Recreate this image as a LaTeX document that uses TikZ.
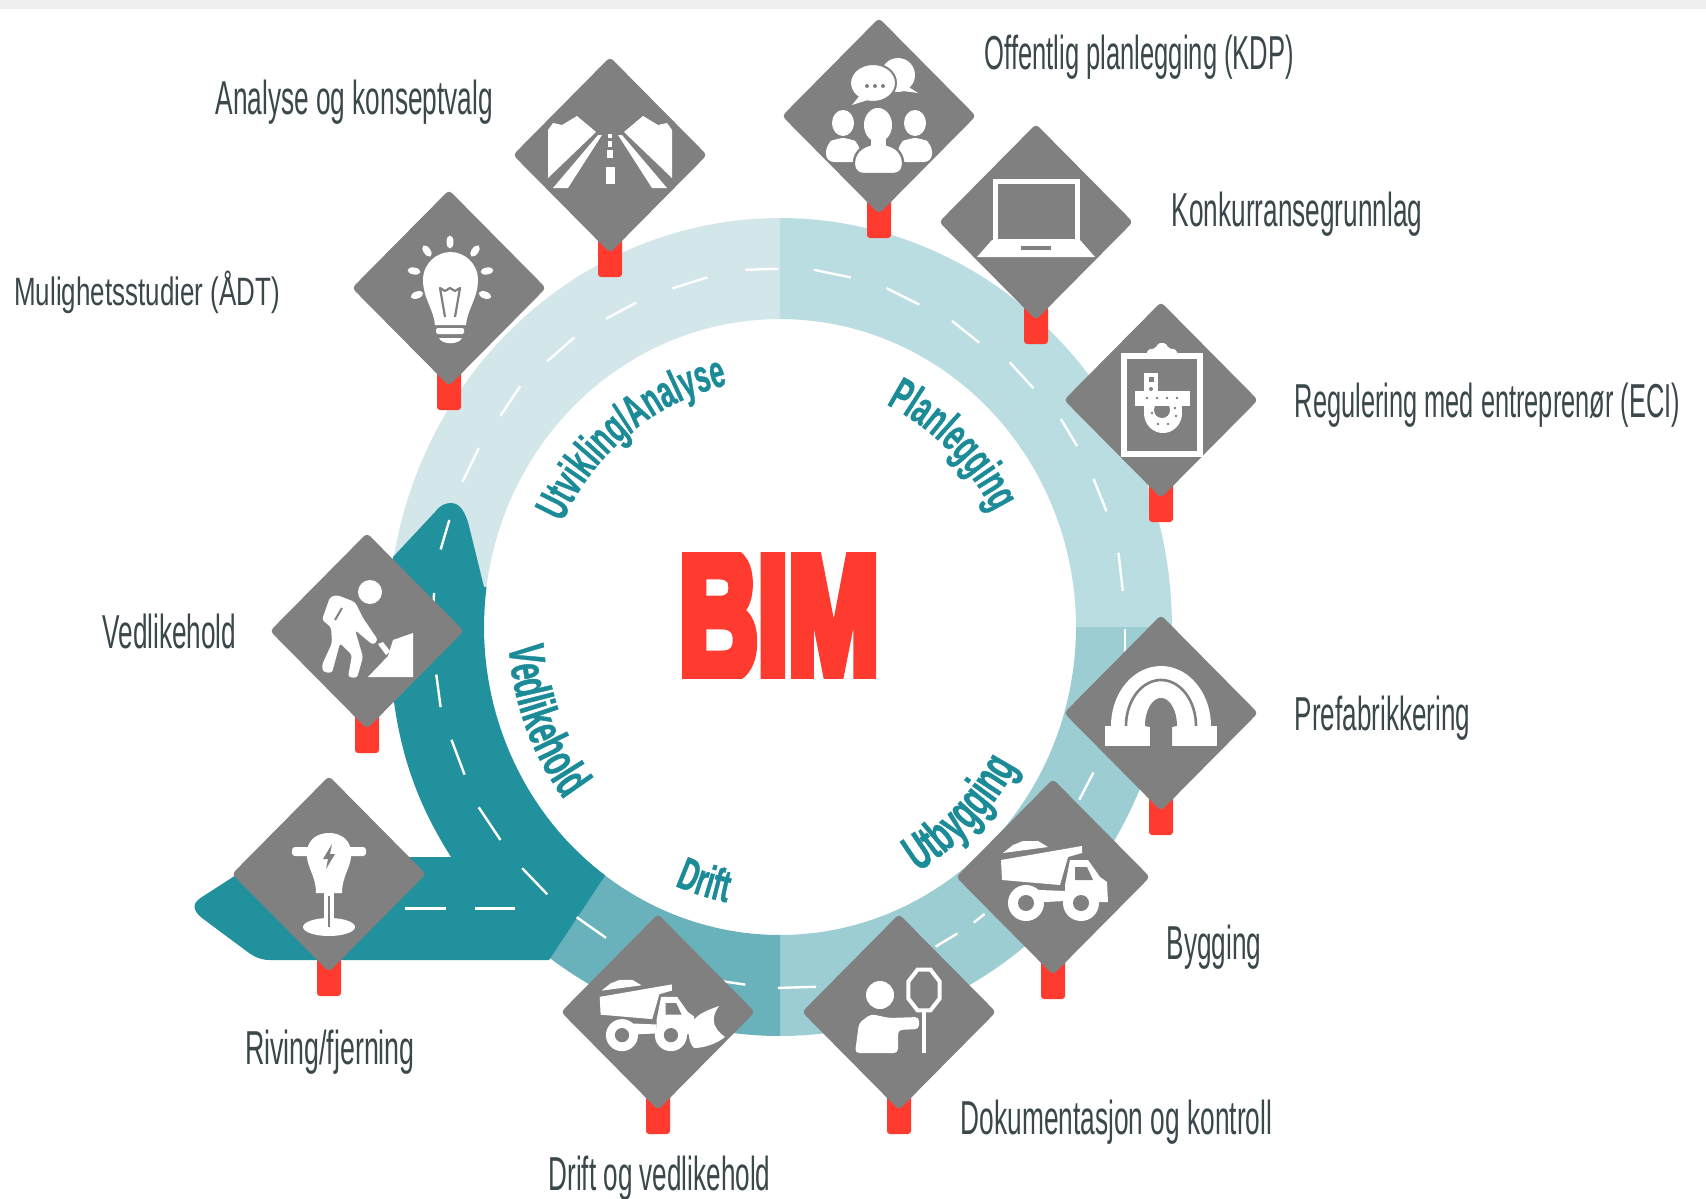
\documentclass[tikz,border=0pt]{standalone}
\usepackage{graphicx}
\usepackage{fontspec}
\usetikzlibrary{shapes.geometric,decorations.text}
\setmainfont{Liberation Sans}
\newfontfamily\curvefont[FakeStretch=0.58,BoldFeatures={FakeBold=0.8}]{Liberation Sans}
\newfontfamily\bimfont[BoldFeatures={FakeBold=8}]{Liberation Sans}
\definecolor{ringa}{HTML}{D3E7EB}
\definecolor{ringb}{HTML}{BADDE1}
\definecolor{ringc}{HTML}{9CCDD3}
\definecolor{ringd}{HTML}{69B2BB}
\definecolor{roadc}{HTML}{21919E}
\definecolor{signg}{HTML}{808080}
\definecolor{postr}{HTML}{FF3B30}
\definecolor{labc}{HTML}{3A474B}
\definecolor{curvec}{HTML}{1B8B98}
\tikzset{
  signd/.style={diamond,fill=signg,inner sep=0pt,minimum width=194pt,minimum height=196pt,aspect=1,rounded corners=4pt},
  postbox/.style={fill=postr,rounded corners=3pt},
  lab/.style={anchor=base west,inner sep=0pt,text=labc},
  dashw/.style={draw=white,line width=2.4pt},
  ic/.style={fill=white,draw=none},
  icg/.style={fill=signg,draw=none},
  curved/.style 2 args={decorate,decoration={text along path,text align=center,text={|\curvefont\bfseries\fontsize{#1}{#1}\selectfont\color{curvec}|#2}}}
}
\newcommand\ringsec[3]{\fill[#1] plot[domain=#2:#3,samples=50] ({780+392*cos(\x)},{627-409*sin(\x)}) -- plot[domain=#3:#2,samples=50] ({780+296*cos(\x)},{627-308*sin(\x)}) -- cycle;}
\newcommand\sign[3]{\fill[postbox] ({#2-12},{#3+60}) rectangle ({#2+12},{#3+122});\node[signd] (#1) at (#2,#3) {};}
\newcommand\lab[5]{\node[lab] (#1) at ({#2*1.088},{(#4+14)*1.088}) {\resizebox{\dimexpr(#3pt-#2pt)*1088/1000\relax}{34.5pt}{\vphantom{A}#5}};}
\newcommand\truck{%
  \fill[ic] (-50,-24) -- (-40,-32) -- (-30,-36) -- (-15,-36) -- (-5,-30) -- cycle;
  \fill[ic] (-52,-17) -- (29,-31) -- (29,-24) -- (15,-20) -- (7,8) -- (-51,3) -- cycle;
  \fill[ic] (17,-17) -- (35,-17) -- (47,0) -- (54,5) -- (55,25) -- (12,25) -- (12,8) -- cycle;
  \fill[icg] (22,-10) -- (34,-10) -- (40,3) -- (22,3) -- cycle;
  \fill[ic] (-38,12) -- (12,14) -- (12,24) -- (-8,25) -- (-38,25) -- cycle;
  \fill[ic] (-27,26) circle[radius=18]; \fill[ic] (28,26) circle[radius=18];
  \fill[icg] (-27,26) circle[radius=8]; \fill[icg] (28,26) circle[radius=8];
}
\begin{document}
\begin{tikzpicture}[x=1pt,y=-1pt]
\useasboundingbox (0,0) rectangle (1706,1199);
\fill[white] (0,0) rectangle (1706,1199);
\fill[black!6] (0,0) rectangle (1706,9);
% ring
\ringsec{ringa}{90}{181}
\ringsec{ringb}{0}{90}
\ringsec{ringc}{-90}{0}
\ringsec{ringd}{225}{270}
% dark road
\fill[roadc] (451,503) .. controls (460,503) and (466,512) .. (470,530) -- (484,587)
  -- plot[domain=172.5:233.8,samples=40] ({780+296*cos(\x)},{627-308*sin(\x)})
  -- (549,960) -- (270,960) .. controls (258,960) and (252,955) .. (245,950) -- (202,918)
  .. controls (192,910) and (192,903) .. (202,897) -- (233,877) -- (262,857) -- (451,857)
  .. controls (415,800) and (392,740) .. (389,640) .. controls (388,610) and (390,570) .. (393,557)
  -- (435,512) .. controls (440,505) and (446,503) .. (451,503) -- cycle;
% dashes
\begin{scope}[x=1.088pt,y=-1.088pt]
\foreach \a/\b/\c/\d in {715/247/685/248,650/255/618/265,585/278/557/293,528/310/503/332,478/355/460/382,440/412/425/443,413/478/405/505,399/545/397/575,401/620/405/650,415/680/427/712,440/742/460/772,480/798/503/822,530/843/557/862,
748/248/782/255,815/265/845/280,875/295/900/315,928/333/950/357,975/385/990/410,1005/440/1017/470,1028/508/1032/543,1034/578/1034/600,1005/710/992/735,905/840/895/848,880/858/860/870,750/907/715/908,685/905/665/902,372/835/410/835,437/835/473/835}
  \draw[dashw] (\a,\b) -- (\c,\d);
\end{scope}
% signs
\sign{s1}{610}{155}
\sign{s2}{879}{116}
\sign{s3}{1036}{222}
\sign{s4}{1161}{400}
\sign{s5}{1161}{713}
\sign{s6}{1053}{877}
\sign{s7}{899}{1012}
\sign{s8}{658}{1012}
\sign{s9}{329}{874}
\sign{s10}{367}{631}
\sign{s11}{449}{288}
% road icon
\begin{scope}[shift={(610,155)}]
\foreach \s in {1,-1}{
 \fill[ic] ({\s*62},-25) -- ({\s*57},-32) -- ({\s*48},-30) -- ({\s*33},-39) -- ({\s*14},-23) -- ({\s*62},23) -- cycle;
 \fill[ic] ({\s*57},33) -- ({\s*42},33) -- ({\s*8},-20) -- ({\s*12},-20) -- cycle;
}
\fill[ic] (-4.5,12) rectangle (4.5,29);
\fill[ic] (-3,-5) rectangle (3,3);
\fill[ic] (-2.2,-14) rectangle (2.2,-8);
\fill[ic] (-1.8,-21) rectangle (1.8,-17);
\end{scope}
% meeting icon
\begin{scope}[shift={(879,116)}]
\fill[ic] (19,-41) ellipse[x radius=17,y radius=17];
\fill[ic] (28,-30) -- (39,-23) -- (24,-25) -- cycle;
\fill[ic,draw=signg,line width=2pt] (-6,-33) ellipse[x radius=23,y radius=19];
\fill[ic] (-18,-22) -- (-27,-11) -- (-8,-17) -- cycle;
\foreach \q in {-12,-4,4} \fill[icg] (\q,-30) circle[radius=2];
\foreach \q in {-36,36}{
 \fill[ic] (\q,7) ellipse[x radius=11,y radius=13];
 \fill[ic,rounded corners=8pt] ({\q-17},46) -- ({\q-17},28) -- ({\q-7},22) -- ({\q+7},22) -- ({\q+17},28) -- ({\q+17},46) -- cycle;
}
\fill[ic,draw=signg,line width=2.4pt] (-1,9) ellipse[x radius=15,y radius=18];
\fill[ic,draw=signg,line width=2.4pt,rounded corners=9pt] (-25,58) -- (-25,37) -- (-9,27) -- (8,27) -- (24,37) -- (24,58) -- cycle;
\fill[ic] (-1,9) ellipse[x radius=14,y radius=17];
\fill[ic] (-8,20) rectangle (7,32);
\end{scope}
% laptop
\begin{scope}[shift={(1036,222)}]
\draw[white,line width=5pt] (-41,-41) rectangle (41,19);
\fill[ic] (-44,18) -- (44,18) -- (59,35) -- (-59,35) -- cycle;
\fill[icg] (-15,24) rectangle (15,28);
\end{scope}
% clipboard
\begin{scope}[shift={(1161,400)}]
\draw[white,line width=6pt] (-37,-44) rectangle (39,54);
\fill[ic,rounded corners=2pt] (-14,-45) -- (-14,-50) -- (-5,-52) -- (-3,-57) -- (5,-57) -- (7,-52) -- (16,-50) -- (16,-45) -- cycle;
\fill[ic] (-17,-27) rectangle (-3,10);
\fill[ic] plot[domain=0:-180,samples=30] ({2+19*cos(\x)},{13-20*sin(\x)}) -- cycle;
\fill[ic] (-17,6) rectangle (21,14);
\fill[icg] (1,10) circle[radius=8];
\fill[ic] (-26,-9) rectangle (29,6);
\foreach \q/\r in {-14/-2,-4/-2,6/-2,16/-2,-9/13,-3/24,7/24,15/16,14/8} \fill[icg] (\q,\r) circle[radius=1.4];
\fill[icg] (-12.5,-23) rectangle (-7.5,-18);
\fill[icg] (-10,-11) circle[radius=2];
\end{scope}
% tunnel
\begin{scope}[shift={(1161,713)}]
\fill[ic] plot[domain=0:180,samples=40] ({50*cos(\x)},{13-60*sin(\x)}) -- cycle;
\fill[ic] (-56,13) rectangle (-11,33);
\fill[ic] (11,13) rectangle (56,33);
\draw[signg,line width=2.6pt] plot[domain=0:180,samples=40] ({35*cos(\x)},{13-46*sin(\x)});
\fill[icg] plot[domain=0:180,samples=40] ({16*cos(\x)},{13-28*sin(\x)}) -- (-11,14) -- (-11,34) -- (11,34) -- (11,14) -- cycle;
\end{scope}
% dump truck
\begin{scope}[shift={(1053,877)}]
\truck
\end{scope}
% sign person
\begin{scope}[shift={(899,1012)}]
\fill[ic] (-19,-17) circle[radius=14];
\fill[ic,rounded corners=4pt] (-44,41) -- (-40,11) -- (-28,2) -- (-10,6) -- (20,5) -- (20,17) -- (-1,18) -- (-1,41) -- cycle;
\draw[white,line width=4pt] (25,-2) -- (25,41);
\draw[white,line width=4pt] plot[domain=22.5:382.5,samples=9] ({25+17*cos(\x)},{-22+22*sin(\x)}) -- cycle;
\end{scope}
% truck and blade
\begin{scope}[shift={(658,1012)}]
\begin{scope}[shift={(-12,0)},scale=.89]
\truck
\end{scope}
\fill[ic] (33,12) .. controls (38,2) and (50,-2) .. (61,-6) .. controls (54,4) and (52,14) .. (67,25) .. controls (58,32) and (46,36) .. (36,36) .. controls (30,30) and (30,20) .. (33,12) -- cycle;
\end{scope}
% drill
\begin{scope}[shift={(329,874)}]
\fill[ic,rounded corners=3pt] (-37,-27) rectangle (37,-18);
\fill[ic] (-22,-24) .. controls (-20,-36) and (-10,-41) .. (0,-41) .. controls (10,-41) and (20,-36) .. (22,-24) .. controls (24,-8) and (13,0) .. (13,19) -- (-13,19) .. controls (-13,0) and (-24,-8) .. (-22,-24) -- cycle;
\fill[ic] (-5,19) rectangle (5,50);
\fill[ic] (0,53) ellipse[x radius=26,y radius=9];
\fill[icg] (3,-30) -- (-6,-15) -- (-1,-15) -- (-3,-5) -- (6,-20) -- (1,-20) -- cycle;
\draw[signg,line width=1.2pt] (0,22) -- (0,53);
\end{scope}
% worker
\begin{scope}[shift={(367,631)}]
\fill[ic] (3,-39) circle[radius=12];
\fill[ic,rounded corners=3pt] (-45,-11) -- (-37,-34) -- (-30,-36) -- (-12,-29) -- (-4,-13) -- (11,9) -- (6,14) -- (-12,-1) -- (-4,26) -- (-10,47) -- (-19,46) -- (-15,24) -- (-27,12) -- (-35,42) -- (-44,41) -- (-45,34) -- (-35,12) -- (-36,-4) -- cycle;
\draw[signg,line width=2pt] (-32,-11) -- (-25,-23);
\fill[ic] (11,13) -- (16,11) -- (23,20) -- (19,24) -- cycle;
\fill[ic] (26,9) -- (46,2) -- (46,46) -- (1,46) -- (21,25) -- cycle;
\end{scope}
% bulb
\begin{scope}[shift={(449,288)}]
\fill[ic] (-14,37) .. controls (-15,22) and (-26,10) .. (-26,-8) .. controls (-26,-25) and (-12,-36) .. (1.5,-36) .. controls (15,-36) and (29,-25) .. (29,-8) .. controls (29,10) and (18,22) .. (17,37) -- cycle;
\draw[signg,line width=2.2pt,line join=round] (-4,29) -- (-9,0) -- (-4,3) -- (1,0) -- (6,3) -- (11,0) -- (6,29);
\fill[ic,rounded corners=1.5pt] (-13,40) rectangle (15,46);
\fill[ic] (-10,50) -- (13,50) .. controls (10,57) and (-7,57) .. (-10,50) -- cycle;
\foreach \a/\b/\r in {1/-46/0,-22/-37/35,26/-37/-35,-35/-17/80,38/-17/-80,-32/7/110,36/7/-110}
  \fill[ic,rotate around={\r:(\a,\b)}] (\a,\b) ellipse[x radius=3.5,y radius=6.5];
\end{scope}
% BIM
\begin{scope}
\clip (682,552) rectangle (877,678);
\node[inner sep=0pt,text=postr] (bim) at (779,615) {\resizebox{200pt}{124pt}{\bimfont\bfseries BIM}};
\end{scope}
% curved labels
\path[curved={46}{Utvikling/Analyse}] plot[domain=176:81,samples=60] ({780+240*cos(\x)},{627-248*sin(\x)});
\path[curved={47}{Planlegging}] plot[domain=90:2,samples=60] ({780+240*cos(\x)},{627-248*sin(\x)});
\path[curved={51}{Utbygging}] plot[domain=-90:0,samples=60] ({780+272*cos(\x)},{627-284*sin(\x)});
\path[curved={46}{Drift}] plot[domain=-137:-77,samples=60] ({780+270*cos(\x)},{627-281*sin(\x)});
\path[curved={51}{Vedlikehold}] plot[domain=156:246,samples=60] ({780+272*cos(\x)},{627-284*sin(\x)});
% labels
\lab{l1}{198}{453}{91}{Analyse og konseptvalg}
\lab{l2}{13}{257}{267}{Mulighetsstudier (ÅDT)}
\lab{l3}{905}{1189}{50}{Offentlig planlegging (KDP)}
\lab{l4}{1077}{1307}{194}{Konkurransegrunnlag}
\lab{l5}{1190}{1544}{370}{Regulering med entreprenør (ECI)}
\lab{l6}{1190}{1351}{657}{Prefabrikkering}
\lab{l7}{1072}{1159}{868}{Bygging}
\lab{l8}{883}{1169}{1029}{Dokumentasjon og kontroll}
\lab{l9}{504}{708}{1080}{Drift og vedlikehold}
\lab{l10}{225}{381}{964}{Riving/fjerning}
\lab{l11}{94}{217}{582}{Vedlikehold}
\end{tikzpicture}
\end{document}
